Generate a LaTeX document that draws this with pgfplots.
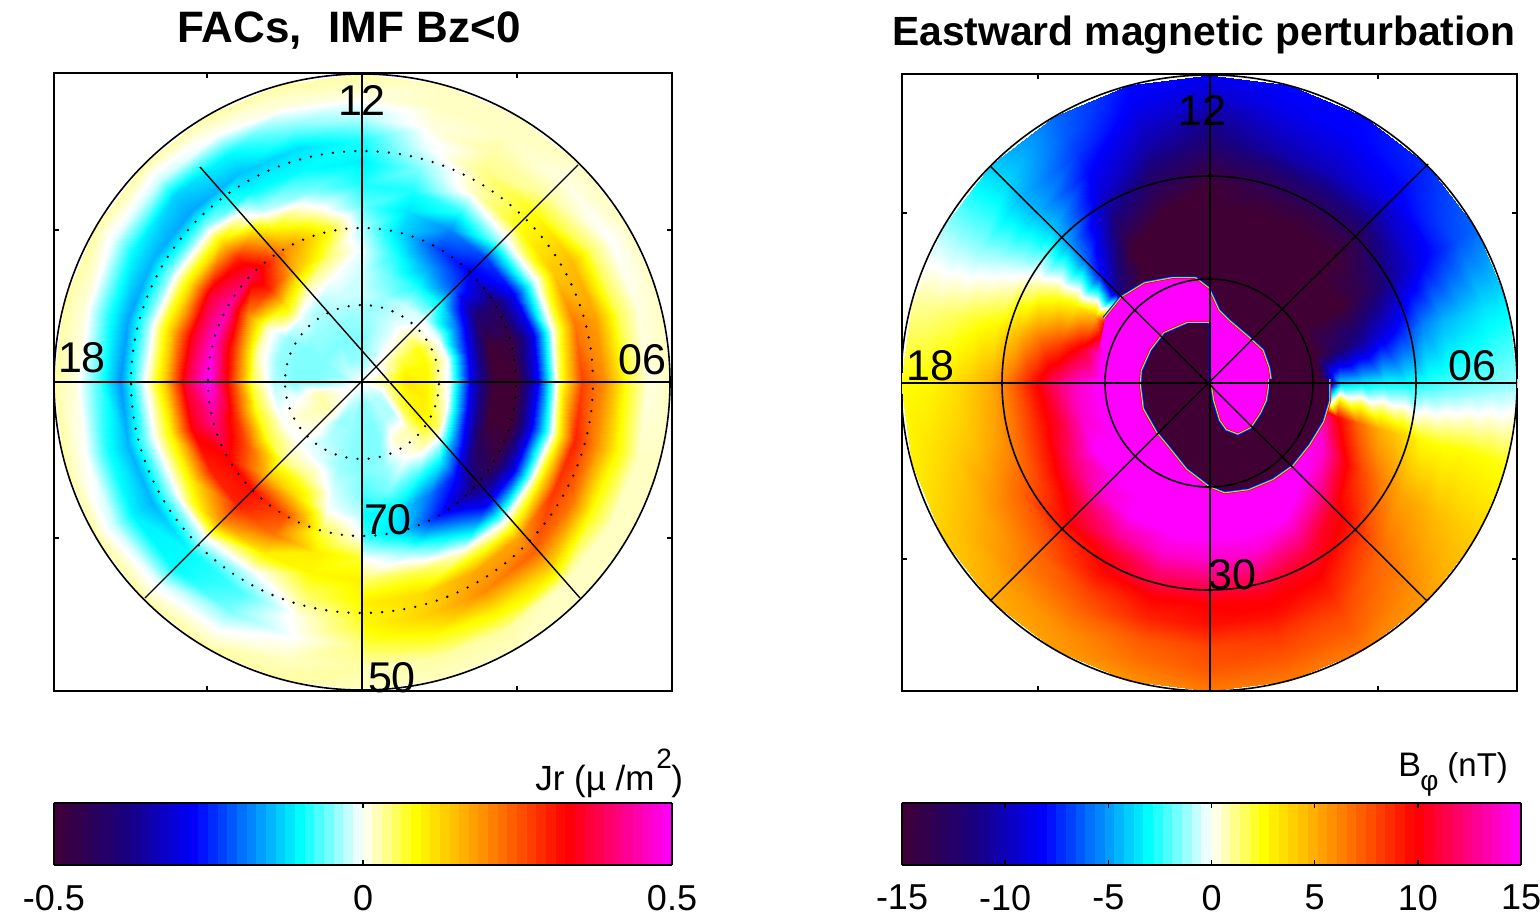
\documentclass[border=0pt]{standalone}
\usepackage{fontspec}
\setmainfont{Liberation Sans}
\usepackage{pgfplots}
\usepackage{pgfplotstable}
\pgfplotsset{compat=1.18}
\definecolor{darkc}{RGB}{64,0,51}
\pgfplotsset{
  colormap={wj}{rgb255(0)=(64,0,51) rgb255(115)=(25,0,125) rgb255(230)=(0,0,255) rgb255(400)=(0,255,255) rgb255(500)=(255,255,255) rgb255(585)=(255,255,0) rgb255(700)=(255,140,0) rgb255(830)=(255,0,0) rgb255(1000)=(255,0,255)},
  colormap name=wj,
  panel/.style={scale only axis, axis line style={line width=1pt}, tick style={black,line width=.7pt}, major tick length=2.5pt, xticklabels={}, yticklabels={}, clip=true},
  bar/.style={colorbar horizontal, colorbar sampled, colorbar style={samples=65, height=31pt, xticklabel style={font=\fontsize{18}{18}\selectfont, yshift=-6.5pt}, axis line style={line width=1pt}, tick style={black,line width=.7pt}, major tick length=2.5pt, ytick=\empty, xticklabel pos=lower}}
}
% values per hour of local time (0..24), rings every 22 px from the pole
\pgfplotstableread[row sep=\\,header=false]{
0\\-.05\\-.05\\-.05\\-.05\\-.07\\-.1\\-.08\\0\\.05\\.1\\.09\\.06\\.02\\.02\\
0\\-.04\\-.05\\-.05\\-.04\\-.05\\-.11\\-.13\\-.04\\.06\\.12\\.13\\.08\\.03\\.02\\
0\\-.03\\-.03\\.02\\0\\-.08\\-.19\\-.26\\-.12\\.02\\.17\\.2\\.1\\.03\\.02\\
0\\-.03\\-.03\\.03\\.03\\-.1\\-.26\\-.38\\-.27\\-.01\\.18\\.24\\.13\\.02\\.02\\
0\\-.02\\.06\\.1\\.05\\-.2\\-.42\\-.47\\-.28\\.03\\.28\\.22\\.08\\.02\\.02\\
0\\.01\\.09\\.1\\0\\-.28\\-.5\\-.5\\-.27\\.01\\.3\\.2\\.09\\.02\\.02\\
0\\.04\\.11\\.09\\-.02\\-.3\\-.5\\-.5\\-.27\\.06\\.27\\.2\\.08\\.01\\.02\\
0\\.03\\.09\\.09\\0\\-.27\\-.5\\-.48\\-.3\\.01\\.22\\.18\\.06\\.01\\.02\\
0\\0\\.06\\.08\\-.01\\-.2\\-.4\\-.42\\-.27\\-.03\\.14\\.15\\.05\\0\\.02\\
0\\0\\.02\\.03\\-.01\\-.1\\-.22\\-.28\\-.23\\-.03\\.08\\.08\\.03\\.01\\.02\\
0\\-.01\\-.01\\-.01\\-.02\\-.09\\-.16\\-.23\\-.18\\-.08\\.02\\.04\\.03\\.02\\.02\\
0\\-.03\\-.03\\-.03\\-.04\\-.06\\-.09\\-.13\\-.12\\-.09\\-.05\\-.01\\.01\\.02\\.02\\
0\\-.04\\-.05\\-.04\\-.02\\-.02\\-.01\\-.03\\-.06\\-.09\\-.11\\-.09\\-.03\\.01\\.03\\
0\\-.04\\-.05\\-.04\\-.02\\0\\.05\\.1\\.02\\-.05\\-.1\\-.12\\-.05\\.01\\.03\\
0\\-.04\\-.05\\-.04\\-.03\\.03\\.15\\.2\\.1\\-.02\\-.1\\-.14\\-.1\\0\\.03\\
0\\-.03\\-.05\\-.04\\-.01\\.12\\.3\\.38\\.3\\.12\\-.04\\-.16\\-.13\\-.02\\.03\\
0\\-.03\\-.05\\-.05\\-.04\\.02\\.2\\.44\\.36\\.12\\-.04\\-.15\\-.1\\-.01\\.03\\
0\\-.04\\-.05\\-.05\\-.04\\.03\\.28\\.47\\.35\\.14\\-.03\\-.16\\-.08\\.01\\.03\\
0\\-.03\\-.05\\-.05\\-.03\\.06\\.3\\.5\\.37\\.13\\-.02\\-.17\\-.07\\.01\\.03\\
0\\0\\.03\\0\\-.01\\.08\\.3\\.42\\.34\\.1\\-.03\\-.15\\-.09\\0\\.03\\
0\\0\\.03\\.02\\0\\.07\\.25\\.33\\.3\\.1\\-.03\\-.15\\-.11\\-.02\\.03\\
0\\0\\.02\\.01\\0\\.04\\.14\\.32\\.3\\.2\\0\\-.1\\-.1\\-.01\\.03\\
0\\-.02\\-.04\\-.03\\-.01\\.04\\.12\\.26\\.22\\.1\\-.01\\-.07\\-.05\\0\\.03\\
0\\-.03\\-.04\\-.04\\-.04\\-.02\\0\\.06\\.1\\.09\\.05\\.01\\0\\.02\\.03\\
0\\-.05\\-.05\\-.05\\-.05\\-.05\\-.03\\0\\.07\\.1\\.09\\.07\\.04\\.03\\.02\\
}\leftdata
\pgfplotstableread[row sep=\\,header=false]{
15\\15\\15\\15\\15\\15\\15\\15\\14\\12\\10\\9.5\\8\\7.5\\6.5\\
15\\15\\15\\15\\15\\15\\15\\15\\14\\12\\10.2\\9.5\\8.3\\7.5\\6.5\\
15\\15\\15\\15\\15\\15\\15\\15\\13\\11\\10\\9\\8\\7.3\\6.5\\
15\\15\\15\\15\\15\\15\\15\\13\\10.5\\9.5\\8\\7\\6.5\\6\\5.5\\
15\\15\\15\\15\\15\\15\\14\\10.5\\8\\6.5\\5.3\\5\\4.5\\4.2\\4\\
15\\15\\15\\15\\15\\15\\10\\7\\5\\4\\2.6\\2.5\\2.6\\2.5\\2.3\\
-15\\-15\\-15\\-15\\-15\\-15\\-4\\-3.5\\-3\\-3\\-2.5\\-2.1\\-1.8\\-1.5\\-1.2\\
-15\\-15\\-15\\-15\\-15\\-15\\-12.5\\-11\\-9\\-7.5\\-5.5\\-4.5\\-4\\-3.5\\-3.3\\
-15\\-15\\-15\\-15\\-15\\-15\\-15\\-15\\-13.5\\-12\\-10\\-8.5\\-7.5\\-6.5\\-6\\
-15\\-15\\-15\\-15\\-15\\-15\\-15\\-15\\-15\\-14\\-12\\-10\\-8.3\\-7.7\\-7.3\\
-15\\-15\\-15\\-15\\-15\\-15\\-15\\-15\\-15\\-14\\-12\\-10\\-9\\-8.2\\-8\\
-15\\-15\\-15\\-15\\-15\\-15\\-15\\-15\\-15\\-14\\-12.5\\-10.5\\-9.5\\-8.5\\-8\\
-15\\-15\\-15\\-15\\-15\\-15\\-15\\-15\\-15\\-15\\-13.5\\-12\\-11\\-9.5\\-8.5\\
-15\\-15\\-15\\-15\\-15\\-15\\-15\\-15\\-15\\-13.5\\-12\\-10.5\\-9.5\\-8.5\\-8\\
-15\\-15\\-15\\-15\\-15\\-15\\-15\\-15\\-13\\-11\\-9\\-8\\-7\\-6.3\\-6\\
-15\\-15\\-15\\-15\\-15\\-15\\-11\\-8\\-6\\-5\\-4.2\\-4.5\\-4.5\\-3.8\\-4\\
15\\15\\15\\15\\15\\15\\5\\3\\2\\.8\\-.2\\-.8\\-1.2\\-1.2\\-1\\
15\\15\\15\\15\\15\\15\\10.5\\8\\6.5\\4.5\\2.8\\2.2\\1.6\\1.2\\1\\
15\\15\\15\\15\\15\\15\\14\\12\\9.5\\7\\5\\4\\3.2\\2.7\\2.5\\
15\\15\\15\\15\\15\\15\\14\\11\\9\\7\\5.5\\4.5\\4\\3.5\\3\\
15\\15\\15\\15\\15\\15\\15\\12.5\\10\\8\\7\\6\\5\\4.5\\4\\
15\\15\\15\\15\\15\\15\\15\\14\\11.5\\10\\8\\7\\6.3\\5.5\\5\\
15\\15\\15\\15\\15\\15\\15\\15\\13\\10.5\\9.5\\8\\7\\6\\5.5\\
15\\15\\15\\15\\15\\15\\15\\15\\14\\12\\10\\9\\7.5\\6.8\\5.8\\
15\\15\\15\\15\\15\\15\\15\\15\\14\\12\\10\\9.5\\8\\7.5\\6.5\\
}\rightdata
% boundaries of the saturated regions, in image pixels
\pgfplotstableread{
x y
1105 318
1122 297
1145 283
1172 278
1195 278
1208 288
1218 310
1228 320
1248 337
1262 350
1268 367
1270 380
}\Medge
\pgfplotstableread{
x y
1105 318
1122 297
1145 283
1172 278
1195 278
1208 288
1218 310
1228 320
1248 337
1262 350
1268 367
1270 380
1270 387
1268 400
1262 413
1252 428
1238 435
1225 430
1218 420
1212 400
1210 387
1180 460
1130 420
1100 345
}\Mfill
\pgfplotstableread{
x y
1328 378
1328 400
1322 420
1308 443
1292 463
1272 477
1248 487
1225 490
1210 484
1205 480
1188 467
1172 447
1158 430
1145 407
1142 383
1143 370
1152 350
1165 333
1188 323
1208 323
1208 380
1210 387
1212 400
1218 420
1225 430
1238 435
1252 428
1262 413
1268 400
1270 387
1270 378
}\Dfill
\newcommand{\poly}[2]{\addplot[#1, no markers, forget plot, line join=round] table[x expr=\thisrow{x}-1209, y expr=382-\thisrow{y}] {#2};}
\begin{document}
\begin{tikzpicture}[x=.5pt,y=-.5pt]
\useasboundingbox (0,0) rectangle (1540,919);
% left panel
\begin{axis}[panel, at={(27pt,-345.5pt)}, anchor=south west, width=309pt, height=309pt,
  xmin=-308, xmax=310, ymin=-309, ymax=309, xtick={-155,155}, ytick={-156,152},
  point meta min=-0.5, point meta max=0.5, bar,
  colorbar style={at={(0,-0.1812)}, anchor=north west, width=309pt, xtick={-0.5,0,0.5}, xticklabels={-0.5\hspace{8pt},0,0.5}}]
\pgfplotsinvokeforeach{0,...,23}{
\addplot[surf, shader=interp, forget plot, mesh/check=false, mesh/cols=2, mesh/rows=15, mesh/ordering=y varies, point meta=\thisrowno{0},
  skip coords between index={0}{\numexpr 15*#1\relax}, skip coords between index={\numexpr 15*#1+30\relax}{400}]
  table[x index=0, y index=0, x expr={22*mod(\coordindex,15)*cos(15*(floor(\coordindex/15)-6))}, y expr={22*mod(\coordindex,15)*sin(15*(floor(\coordindex/15)-6))}] {\leftdata};
}
\draw[black, line width=1.3pt, line cap=round, dash pattern=on 0pt off 5.6pt] (axis cs:0,0) circle[radius=77];
\draw[black, line width=1.3pt, line cap=round, dash pattern=on 0pt off 5.6pt] (axis cs:0,0) circle[radius=154];
\draw[black, line width=1.3pt, line cap=round, dash pattern=on 0pt off 5.6pt] (axis cs:0,0) circle[radius=231];
\draw[black,line width=.8pt] (axis cs:0,0) circle[radius=308];
\addplot[black,line width=.8pt,forget plot] coordinates {(0,-309) (0,309)};
\addplot[black,line width=.8pt,forget plot] coordinates {(-308,0) (310,0)};
\addplot[black,line width=.7pt,forget plot] coordinates {(-162,215) (218,-216)};
\addplot[black,line width=.7pt,forget plot] coordinates {(216,217) (-217,-216)};
\end{axis}
% right panel
\begin{axis}[panel, at={(451pt,-345.5pt)}, anchor=south west, width=307.5pt, height=308.5pt,
  xmin=-307, xmax=308, ymin=-308, ymax=309, xtick={-171,169}, ytick={-176,170},
  point meta min=-15, point meta max=15, bar,
  colorbar style={at={(0,-0.1815)}, anchor=north west, width=309.5pt, xtick={-15,-10,-5,0,5,10,15}, xticklabels={-15\hspace{6pt},-10,-5,0,5,10,15\hspace{10pt}}}]
\pgfplotsinvokeforeach{0,...,23}{
\addplot[surf, shader=interp, forget plot, mesh/check=false, mesh/cols=2, mesh/rows=15, mesh/ordering=y varies, point meta=\thisrowno{0},
  skip coords between index={0}{\numexpr 15*#1\relax}, skip coords between index={\numexpr 15*#1+30\relax}{400}]
  table[x index=0, y index=0, x expr={22*mod(\coordindex,15)*cos(15*(floor(\coordindex/15)-6))}, y expr={22*mod(\coordindex,15)*sin(15*(floor(\coordindex/15)-6))}] {\rightdata};
}
\poly{draw=blue,line width=3pt}{\Medge}
\poly{draw=cyan,line width=2.2pt}{\Medge}
\poly{draw=yellow,line width=1.5pt}{\Medge}
\poly{draw=red,line width=.8pt}{\Medge}
\poly{fill={rgb,255:red,255;green,0;blue,255},draw=none}{\Mfill}
\poly{draw=red,line width=3pt}{\Dfill}
\poly{draw=yellow,line width=2.2pt}{\Dfill}
\poly{draw=cyan,line width=1.5pt}{\Dfill}
\poly{draw=blue,line width=.8pt}{\Dfill}
\poly{fill=darkc,draw=none}{\Dfill}
\draw[black,line width=.8pt] (axis cs:0,0) circle[radius=308];
\draw[black,line width=.8pt] (axis cs:0,0) circle[radius=104];
\draw[black,line width=.8pt] (axis cs:0,0) circle[radius=207];
\addplot[black,line width=.8pt,forget plot] coordinates {(1,-308) (1,309)};
\addplot[black,line width=.8pt,forget plot] coordinates {(-307,0) (308,0)};
\addplot[black,line width=.7pt,forget plot] coordinates {(-219,217) (218,-218)};
\addplot[black,line width=.7pt,forget plot] coordinates {(219,219) (-219,-218)};
\end{axis}
\fill[white] (0,0) rectangle (1540,9);
% texts
\tikzset{big/.style={font=\fontsize{21.5}{21.5}\selectfont, inner sep=0pt}}
\node[big] at (362,100) {12};
\node[big] at (82,358) {18};
\node[big] at (642,360) {06};
\node[big] at (388,520) {70};
\node[big] at (392,678) {50};
\node[big] at (1202,110) {12};
\node[big] at (930,366) {18};
\node[big] at (1472,366) {06};
\node[big] at (1232,575) {30};
\node[font=\bfseries\fontsize{22}{22}\selectfont, inner sep=0pt] at (349,31) {FACs,\hspace{.6em}IMF Bz<0};
\node[font=\bfseries\fontsize{20.4}{20.4}\selectfont, inner sep=0pt] at (1204,35) {Eastward magnetic perturbation};
\node[font=\fontsize{17.5}{17.5}\selectfont, inner sep=0pt, anchor=base east] at (655,790) {Jr (µ /m};
\node[font=\fontsize{14}{14}\selectfont, inner sep=0pt, anchor=base west] at (656,768) {2};
\node[font=\fontsize{17.5}{17.5}\selectfont, inner sep=0pt, anchor=base west] at (671,790) {)};
\node[font=\fontsize{17}{17}\selectfont, inner sep=0pt, anchor=base west] at (1398,776) {B};
\node[font=\fontsize{14}{14}\selectfont, inner sep=0pt, anchor=base west] at (1420,790) {φ};
\node[font=\fontsize{16.5}{16.5}\selectfont, inner sep=0pt, anchor=base west] at (1447,776) {(nT)};
\end{tikzpicture}
\end{document}
